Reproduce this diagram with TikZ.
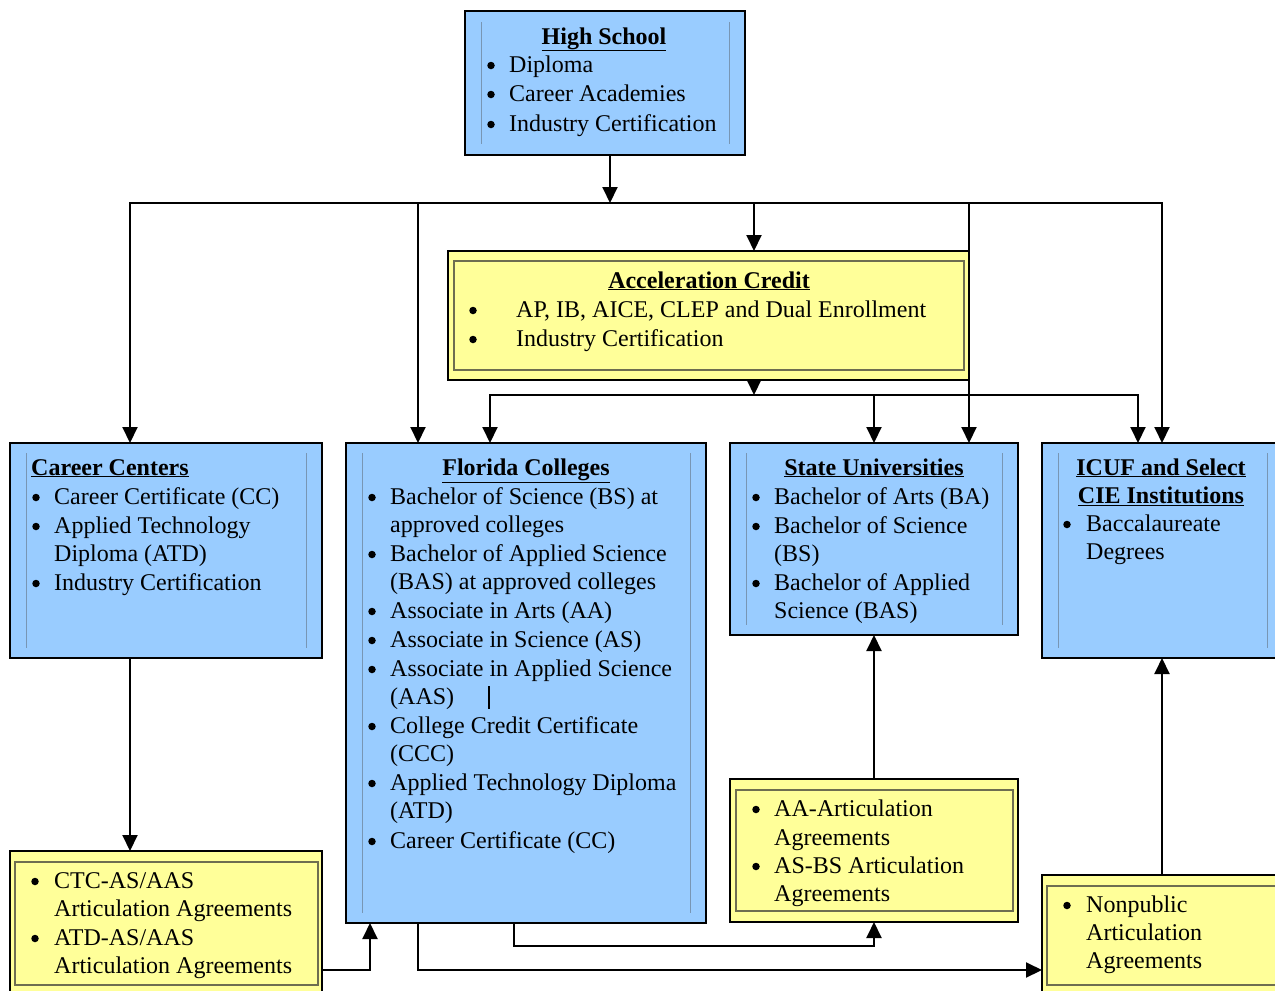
\documentclass[tikz,border=0pt]{standalone}
\usepackage{fontspec}
\setmainfont{Liberation Serif}
\usetikzlibrary{arrows.meta,calc}
\definecolor{bfill}{HTML}{99CCFF}
\definecolor{yfill}{HTML}{FFFF99}
\definecolor{binner}{RGB}{120,150,180}
\definecolor{yinner}{RGB}{110,110,80}
\newcommand\itm[5]{\node[bul] (#1b) at ({#2+4},{#4-6.5}) {}; \node[txt] (#1) at (#3,#4) {#5};}
\newcommand\cnt[4]{\node[txt] (#1) at (#2,#3) {#4};}
\begin{document}
\begin{tikzpicture}[x=1pt,y=-1pt,
 bluebox/.style={draw=black,fill=bfill,line width=2.5pt,inner sep=0pt,outer sep=0pt,anchor=north west},
 yelbox/.style={draw=black,fill=yfill,line width=2.5pt,inner sep=0pt,outer sep=0pt,anchor=north west},
 vline/.style={draw=binner,line width=0.9pt},
 yframe/.style={draw=yinner,line width=1.6pt},
 conn/.style={line width=2pt},
 arr/.style={line width=2pt,-{Triangle[width=15pt,length=16pt]}},
 bul/.style={circle,fill=black,inner sep=0pt,minimum size=7.5pt},
 txt/.style={anchor=base west,inner sep=0pt,font=\fontsize{24}{29}\selectfont},
 ttl/.style={anchor=base,inner sep=0pt,font=\fontsize{24}{29}\selectfont\bfseries},
 ttlw/.style={anchor=base west,inner sep=0pt,font=\fontsize{24}{29}\selectfont\bfseries},
]
\clip (0,0) rectangle (1275,991);
\fill[white] (0,0) rectangle (1275,991);

% ---------- boxes ----------
\node[bluebox,minimum width=280pt,minimum height=144pt] (hs) at (465,11) {};
\node[yelbox,minimum width=521pt,minimum height=129pt] (ac) at (448,251) {};
\node[bluebox,minimum width=312pt,minimum height=215pt] (cc) at (10,443) {};
\node[bluebox,minimum width=360pt,minimum height=480pt] (fc) at (346,443) {};
\node[bluebox,minimum width=288pt,minimum height=192pt] (su) at (730,443) {};
\node[bluebox,minimum width=241pt,minimum height=215pt] (ic) at (1042,443) {};
\node[yelbox,minimum width=312pt,minimum height=150pt] (cy) at (10,851) {};
\node[yelbox,minimum width=288pt,minimum height=143pt] (aa) at (730,779) {};
\node[yelbox,minimum width=241pt,minimum height=130pt] (np) at (1042,875) {};

% inner decorations
\draw[vline] (481,22) -- (481,144) (729,22) -- (729,144);
\draw[vline] (26,453) -- (26,648) (306,453) -- (306,648);
\draw[vline] (362,453) -- (362,913) (690,453) -- (690,913);
\draw[vline] (746,453) -- (746,625) (1002,453) -- (1002,625);
\draw[vline] (1058,453) -- (1058,648) (1267,453) -- (1267,648);
\draw[yframe] (454,261) rectangle (964,370);
\draw[yframe] (15,862) rectangle (318,985);
\draw[yframe] (736,790) rectangle (1013,911);
\draw[yframe] (1047,886) rectangle (1278,985);

% ---------- texts ----------
\node[ttl] (hst) at (604,44) {\underline{High School}};
\itm{hs1}{487}{509}{72}{Diploma}
\itm{hs2}{487}{509}{101}{Career Academies}
\itm{hs3}{487}{509}{131}{Industry Certification}

\node[ttl] (act) at (709,288) {\underline{Acceleration Credit}};
\itm{ac1}{469}{516}{317}{AP, IB, AICE, CLEP and Dual Enrollment}
\itm{ac2}{469}{516}{346}{Industry Certification}

\node[ttlw] (cct) at (31,475) {\underline{Career Centers}};
\itm{cc1}{32}{54}{504}{Career Certificate (CC)}
\itm{cc2}{32}{54}{533}{Applied Technology}
\cnt{cc2b}{54}{561}{Diploma (ATD)}
\itm{cc3}{32}{54}{590}{Industry Certification}

\node[ttl] (fct) at (526,475) {\underline{Florida Colleges}};
\itm{fc1}{368}{390}{504}{Bachelor of Science (BS) at}
\cnt{fc1b}{390}{532}{approved colleges}
\itm{fc2}{368}{390}{561}{Bachelor of Applied Science}
\cnt{fc2b}{390}{589}{(BAS) at approved colleges}
\itm{fc3}{368}{390}{618}{Associate in Arts (AA)}
\itm{fc4}{368}{390}{647}{Associate in Science (AS)}
\itm{fc5}{368}{390}{676}{Associate in Applied Science}
\cnt{fc5b}{390}{704}{(AAS)}
\itm{fc6}{368}{390}{733}{College Credit Certificate}
\cnt{fc6b}{390}{761}{(CCC)}
\itm{fc7}{368}{390}{790}{Applied Technology Diploma}
\cnt{fc7b}{390}{818}{(ATD)}
\itm{fc8}{368}{390}{848}{Career Certificate (CC)}
\draw[line width=2pt] (489,686) -- (489,709);

\node[ttl] (sut) at (874,475) {\underline{State Universities}};
\itm{su1}{752}{774}{504}{Bachelor of Arts (BA)}
\itm{su2}{752}{774}{533}{Bachelor of Science}
\cnt{su2b}{774}{561}{(BS)}
\itm{su3}{752}{774}{590}{Bachelor of Applied}
\cnt{su3b}{774}{618}{Science (BAS)}

\node[ttl] (ict1) at (1161,475) {\underline{ICUF and Select}};
\node[ttl] (ict2) at (1161,503) {\underline{CIE Institutions}};
\itm{ic1}{1063}{1086}{531}{Baccalaureate}
\cnt{ic1b}{1086}{559}{Degrees}

\itm{cy1}{31}{54}{888}{CTC-AS/AAS}
\cnt{cy1b}{54}{916}{Articulation Agreements}
\itm{cy2}{31}{54}{945}{ATD-AS/AAS}
\cnt{cy2b}{54}{973}{Articulation Agreements}

\itm{aa1}{752}{774}{816}{AA-Articulation}
\cnt{aa1b}{774}{845}{Agreements}
\itm{aa2}{752}{774}{873}{AS-BS Articulation}
\cnt{aa2b}{774}{901}{Agreements}

\itm{np1}{1063}{1086}{912}{Nonpublic}
\cnt{np1b}{1086}{940}{Articulation}
\cnt{np1c}{1086}{968}{Agreements}

% ---------- connectors ----------
\coordinate (b1a) at (130,203);
\coordinate (b1b) at (418,203);
\coordinate (b1c) at (754,203);
\coordinate (b1d) at (969,203);
\coordinate (b1e) at (1162,203);
\draw[conn,line cap=rect] (b1a) -- (b1e);
\draw[arr] ([xshift=5pt]hs.south) -- ([xshift=5pt]hs.south |- b1a);
\draw[arr] (b1a) -- (b1a |- cc.north);
\draw[arr] (b1b) -- (b1b |- fc.north);
\draw[arr] (b1c) -- (b1c |- ac.north);
\draw[arr] (b1d) -- (b1d |- su.north);
\draw[arr] (b1e) -- (b1e |- ic.north);

\coordinate (b2a) at (490,395);
\coordinate (b2c) at (754,395);
\coordinate (b2d) at (874,395);
\coordinate (b2e) at (1138,395);
\draw[conn,line cap=rect] (b2a) -- (b2e);
\draw[arr] (b2c |- ac.south) -- (b2c);
\draw[arr] (b2a) -- (b2a |- fc.north);
\draw[arr] (b2d) -- (b2d |- su.north);
\draw[arr] (b2e) -- (b2e |- ic.north);

\draw[arr] (cc.south -| b1a) -- (cy.north -| b1a);

\coordinate (k1) at (370,970);
\draw[arr] (k1 -| cy.east) -- (k1) -- (k1 |- fc.south);
\coordinate (k2) at (514,946);
\draw[arr] (k2 |- fc.south) -- (k2) -- (k2 -| aa.south) -- (aa.south);
\coordinate (k3) at (418,970);
\draw[arr] (k3 |- fc.south) -- (k3) -- (k3 -| np.west);
\draw[arr] (aa.north) -- (su.south);
\draw[arr] (np.north -| b1e) -- (ic.south -| b1e);
\end{tikzpicture}
\end{document}
